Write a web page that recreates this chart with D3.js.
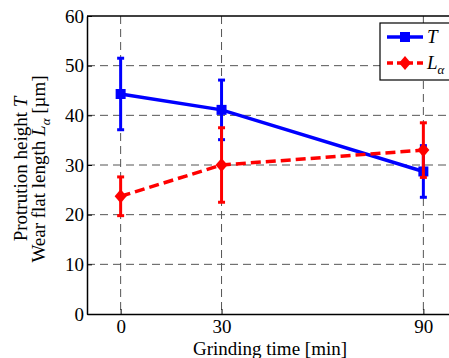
<!DOCTYPE html>
<html>
<head>
<meta charset="utf-8">
<script src="https://cdn.jsdelivr.net/npm/d3@7"></script>
<style>
  body { margin: 0; background: #fff; }
  svg { display: block; font-family: "Liberation Serif", "DejaVu Serif", serif; }
</style>
</head>
<body>
<svg id="chart" width="449" height="358"></svg>
<script>
// data
var times = [0, 30, 90];
var tMean = [44.3, 41.1, 28.7];
var tErr = [7.2, 6.0, 5.2];
var lMean = [23.7, 30.0, 33.0];
var lErr = [3.9, 7.5, 5.5];
var yTicks = [0, 10, 20, 30, 40, 50, 60];

var svg = d3.select("#chart");
var pLeft = 87, pTop = 16, pBottom = 314, pRight = 457;
var fs = 19;

var x = d3.scaleLinear().domain([-10, 100]).range([pLeft, pRight]);
var y = d3.scaleLinear().domain([0, 60]).range([pBottom, pTop]);

// grid
var grid = svg.append("g").attr("stroke", "#555").attr("stroke-width", 1).attr("stroke-dasharray", "8,5");
grid.selectAll(".gy").data(yTicks.slice(1, -1)).enter().append("line")
    .attr("x1", pLeft).attr("x2", pRight)
    .attr("y1", function(d) { return y(d); }).attr("y2", function(d) { return y(d); });
grid.selectAll(".gx").data(times).enter().append("line")
    .attr("y1", pTop).attr("y2", pBottom)
    .attr("x1", function(d) { return x(d); }).attr("x2", function(d) { return x(d); });

// axes
function styleAxis(g) {
    g.select(".domain").attr("stroke", "#000").attr("stroke-width", 1.5);
    g.selectAll(".tick line").attr("stroke", "#000").attr("stroke-width", 1);
    g.selectAll("text").attr("font-size", fs).attr("font-family", "Liberation Serif").attr("fill", "#000");
}
svg.append("g").attr("transform", "translate(0," + pBottom + ")")
    .call(d3.axisBottom(x).tickValues(times).tickSizeInner(-5).tickSizeOuter(0).tickPadding(6))
    .call(styleAxis);
svg.append("g").attr("transform", "translate(" + pLeft + ",0)")
    .call(d3.axisLeft(y).tickValues(yTicks).tickSizeInner(-5).tickSizeOuter(0).tickPadding(3))
    .call(styleAxis);
svg.append("line").attr("x1", pLeft).attr("x2", pRight).attr("y1", pTop).attr("y2", pTop)
    .attr("stroke", "#000").attr("stroke-width", 1.5);

// labels
svg.append("text").attr("x", 270).attr("y", 355)
    .attr("text-anchor", "middle").attr("font-size", fs).text("Grinding time [min]");

var yl = svg.append("g").attr("transform", "translate(0,169) rotate(-90)");
var l1 = yl.append("text").attr("x", 0).attr("y", 27).attr("text-anchor", "middle").attr("font-size", fs);
l1.append("tspan").text("Protrution height ");
l1.append("tspan").attr("font-style", "italic").text("T");
var l2 = yl.append("text").attr("x", 0).attr("y", 45).attr("text-anchor", "middle").attr("font-size", fs);
l2.append("tspan").text("Wear flat length ");
l2.append("tspan").attr("font-style", "italic").text("L");
l2.append("tspan").attr("font-style", "italic").attr("font-size", 13).attr("dy", 5).text("α");
l2.append("tspan").attr("dy", -5).text(" [µm]");

function drawSeries(mean, err, color, dash, marker) {
    var g = svg.append("g");
    var pts = times.map(function(t, i) { return [t, mean[i], err[i]]; });
    g.append("path").datum(pts)
        .attr("fill", "none").attr("stroke", color).attr("stroke-width", 3.5)
        .attr("stroke-dasharray", dash)
        .attr("d", d3.line().x(function(d) { return x(d[0]); }).y(function(d) { return y(d[1]); }));
    var eb = g.selectAll(".eb").data(pts).enter().append("g").attr("stroke", color).attr("stroke-width", 3);
    eb.append("line")
        .attr("x1", function(d) { return x(d[0]); }).attr("x2", function(d) { return x(d[0]); })
        .attr("y1", function(d) { return y(d[1] - d[2]); }).attr("y2", function(d) { return y(d[1] + d[2]); });
    eb.append("line")
        .attr("x1", function(d) { return x(d[0]) - 3.5; }).attr("x2", function(d) { return x(d[0]) + 3.5; })
        .attr("y1", function(d) { return y(d[1] + d[2]); }).attr("y2", function(d) { return y(d[1] + d[2]); });
    eb.append("line")
        .attr("x1", function(d) { return x(d[0]) - 3.5; }).attr("x2", function(d) { return x(d[0]) + 3.5; })
        .attr("y1", function(d) { return y(d[1] - d[2]); }).attr("y2", function(d) { return y(d[1] - d[2]); });
    g.selectAll(".mk").data(pts).enter().append("path")
        .attr("fill", color)
        .attr("transform", function(d) { return "translate(" + x(d[0]) + "," + y(d[1]) + ")"; })
        .attr("d", marker);
}
var squareMk = "M-5,-5H5V5H-5Z";
var diamondMk = "M0,-7L6,0L0,7L-6,0Z";
drawSeries(tMean, tErr, "#0000ff", null, squareMk);
drawSeries(lMean, lErr, "#ff0000", "10,5", diamondMk);

// legend
var lg = svg.append("g");
lg.append("rect").attr("x", 380).attr("y", 23).attr("width", 80).attr("height", 57)
    .attr("fill", "#fff").attr("stroke", "#000").attr("stroke-width", 1.2);
var items = [
    { name: "T", color: "#0000ff", dash: null, mk: squareMk, y: 37 },
    { name: "L", color: "#ff0000", dash: "6,4", mk: diamondMk, y: 63 }
];
items.forEach(function(it) {
    lg.append("line").attr("x1", 387).attr("x2", 423).attr("y1", it.y).attr("y2", it.y)
        .attr("stroke", it.color).attr("stroke-width", 3.5).attr("stroke-dasharray", it.dash);
    lg.append("path").attr("d", it.mk).attr("fill", it.color)
        .attr("transform", "translate(405," + it.y + ")");
    var t = lg.append("text").attr("x", 427).attr("y", it.y + 6).attr("font-size", fs).attr("font-style", "italic");
    t.append("tspan").text(it.name);
    if (it.name === "L") t.append("tspan").attr("font-size", 13).attr("dy", 5).text("α");
});
</script>
</body>
</html>
